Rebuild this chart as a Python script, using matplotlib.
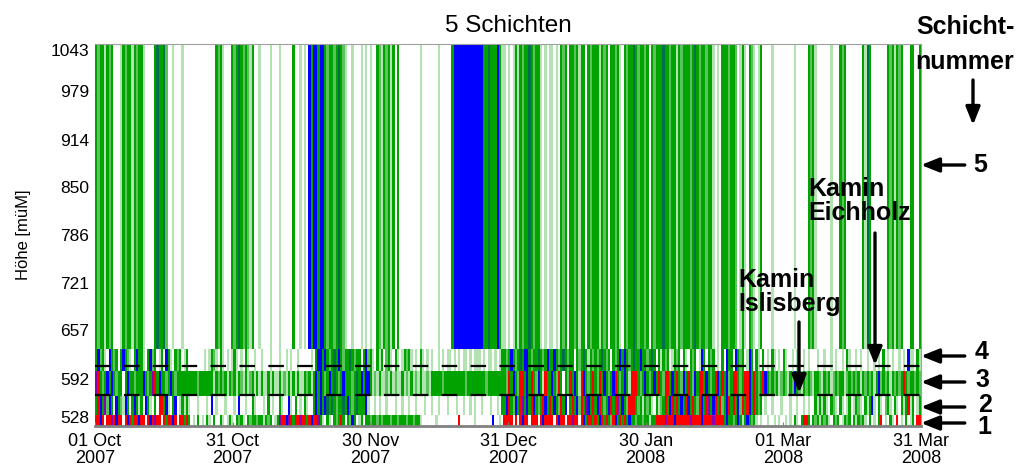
import datetime as dt
import numpy as np
import matplotlib
matplotlib.use("Agg")
import matplotlib.pyplot as plt
import matplotlib.dates as mdates

plt.rcParams['font.family'] = ['Liberation Sans', 'DejaVu Sans']

# time axis: half-day steps from 01 Oct 2007 to 31 Mar 2008
start = dt.datetime(2007, 10, 1)
step = 0.5  # days
n_days = 182

xtick_labels = ['01 Oct\n2007', '31 Oct\n2007', '30 Nov\n2007', '31 Dec\n2007',
                '30 Jan\n2008', '01 Mar\n2008', '31 Mar\n2008']
ytick_values = [528, 592, 657, 721, 786, 850, 914, 979, 1043]

# layer limits [m ue. M.]
layer_bottom = [528, 543, 569, 602, 632]
layer_top = [543, 569, 602, 632, 1043]
layer_names = ['1', '2', '3', '4', '5']

# chimney heights (dashed lines)
kamin_eichholz = 609
kamin_islisberg = 570

# class per half day and layer
# . none, l light green, m mid green, g green, d dark green, b blue, r red, p purple
layer1 = "".join([
    "rrbr.rrprbrr.rbrgrrb", "rr.rbrprr.rgrrbr.rrg", "rg.l.g.l.gl.g..gl.lg",
    "l.gmgl.gmggmgglgmg.l", "gprrbprgrrprrgrbrrpg", "l.gl.gmgrg.gmbg.lg.g",
    "gmggmgmgggmggmgggmgg", "mggl......l.........", "r......l.......b..l.",
    "rrrr.r.rbrr.rrr.rbrr", "rr.rbrr.rrprr.rbgrrg", "rgbrgrgmrbgrgrgbggmg",
    "gmgglggrrrrprrrbrrrr", "rrprrrrbrrrrprrrrgbg", "gmgbglgbgmgl.l..l..l",
    ".l..l.l.gl.grrg.gmgl", "gmgl.gmg.lgmg.glgmgl", ".g.l.gr.l.gl.r.l.g.l",
    "g.rr"])
layer2 = "".join([
    "grbgpmbg.bgmlbg.gbgl", "g.bgl.g.rrgbl.gb.lgl", "gl...l...l.b.l...l..",
    ".l.b..l..gl...l.g.l.", ".gl..bl.g.l.gl..gbgb", "gbdgdgmggdgbgmgdgggb",
    "l..l.l..l...l..l..l.", ".l...l..l..l...l...l", "..l..l.l..l...l..l.g",
    "gbrgmbgrpgbgrbgmgrbg", "rgbgmrgb.grgbmrgpbgr", "gbrgmgbrgrpgbgmrrrgm",
    "glgmgl.glmgrgbrgrgbg", "rbgrgmrbgrpgbrgrmgbr", "grgbmrgrbgrgmg.l..l.",
    "..l...l..l..l.l..glg", "lgl.gml.gl.lg.lgml.g", "lgbl.gl.mgl.gl.glgrl",
    "g.lg"])
layer3 = "".join([
    "prgmgbgbgmgg.gbggmgg", "gbgmgprgbggmgbgmgggg", "gggggmgggggglgmgmglg",
    "mglgmlglmglglgllglgl", "lglmlglglgllgmglgbgb", "gmgbgdgmgbgggmgdgbgb",
    "bglmlgllmlglmllglmlg", "lmlgllmlgggggmgggggg", "gggmggggggggmggggggg",
    "gmrgbgmrrgbgrgmbglrg", "gbgmrg.gmrgbglrbgmgr", "gmrgbgmgbrgmgbglrrrg",
    "mgbgmgbgrgmrrgbgrgmb", "grgmbgrrgbgmgrbgrgbm", "grrgmgrrbgrgmgrbgmgm",
    "glmgmlgmbgmlgmgmlggm", "lgmglmgmgglmgmgmglgm", "gmglgbmgmglgmgmgrgmg",
    "gmgm"])
layer4 = "".join([
    "gbmgl.bgmg.gbgml.gbg", "gl.gbmg.lg.bgl.gmg.l", "g.......l.lgml.gl.l.",
    "lgl.l.gl..l..l...l..", ".l..l.l..l.....l.gbb", "gbgmgdgbgmggdgmgg.gb",
    "mgl.glg.mgl.gl.lgmgl", ".l.gl.l.l..l.l.ll.l.", "l.ll.l.lll.l.ll.l.lg",
    "gmgbgmgdgbbgmggdgmgb", "ggbgmgdgmgg.gmgdglgm", "gmgdgmg.gmgbgbgmgdgg",
    "bggmgdg.glgmg.lgmg.g", "l.gmg.lbg.gmg.l.g.bg", "g.bgmg.lbg.gl.g.l.gl",
    ".l.gl..l.l..l.l...l.", ".l..l.l..l.gl..l.l..", "l..l.l.g.l.l..l.l.bl",
    "l.gl"])
layer5 = "".join([
    "gmgglgmg...lgmgglgmg", "gl....gdggdm..l...l.", ".............gmgl...",
    "gmgdgmgmlg..l....l..", ".l.....g..l.l.bgbbgb", "bgmggmgdgml..l...l.l",
    ".l..gmlgmglg.g......", "...l.......l.....gbb", "bbbbbbbbbbbggdgggbgl",
    "l.l.lglgmggdgmggl.l.", "ll.l.gmg.ggmglgg.gmg", "gglgmg.ggmgl.gmggdgm",
    "ggmg.gmgggdggmgglgmg", "ggmgdgmggmggl.l.gggm", "ggm.lgl.gml.lg....l.",
    "........l.....gmgl..", "....l...gmg.......gl", "dg.......gmglgmg...g",
    "g..g"])
layers = [layer1, layer2, layer3, layer4, layer5]

colors = {
    'l': '#b3e2b3',
    'm': '#5cc25c',
    'g': '#00a300',
    'd': '#00704a',
    'b': '#0000ff',
    'r': '#ff0000',
    'p': '#8a00b8',
}

fig = plt.figure(figsize=(10.25, 4.71), dpi=100)
ax = fig.add_axes([95 / 1025, 45 / 471, 826 / 1025, 382 / 471])

t0 = mdates.date2num(start)
for k, codes in enumerate(layers):
    codes = np.array(list(codes))
    x = t0 + np.arange(len(codes)) * step
    for c, col in colors.items():
        sel = codes == c
        if sel.any():
            ax.bar(x[sel], layer_top[k] - layer_bottom[k], width=step,
                   bottom=layer_bottom[k], align='edge', color=col,
                   linewidth=0, antialiased=False)

# chimney heights
for h in [kamin_eichholz, kamin_islisberg]:
    ax.axhline(h, color='k', lw=1.6, linestyle=(0, (7, 6)))

ax.set_xlim(t0, t0 + n_days)
ax.set_ylim(ytick_values[0], ytick_values[-1])
ax.set_xticks(np.linspace(t0, t0 + n_days, len(xtick_labels)))
ax.set_xticklabels(xtick_labels, fontsize=13, linespacing=1.0)
ax.set_yticks(ytick_values)
ax.set_yticklabels([str(v) for v in ytick_values], fontsize=12.5)
ylab = ax.get_yticklabels()
ylab[0].set_verticalalignment('bottom')
ylab[-1].set_verticalalignment('top')
ax.tick_params(axis='both', direction='in', length=3, color='#808080', pad=4)
ax.tick_params(axis='x', pad=5)
ax.tick_params(axis='y', length=0)

for s in ['top', 'right']:
    ax.spines[s].set_color('#a0a0a0')
    ax.spines[s].set_linewidth(0.8)
ax.spines['bottom'].set_color('#808080')
ax.spines['bottom'].set_linewidth(2)
ax.spines['left'].set_visible(False)

ax.set_title('5 Schichten', fontsize=17.5, pad=9)
ax.set_ylabel('Höhe [müM]', fontsize=12, labelpad=14)

arrow = dict(arrowstyle='-|>,head_length=0.9,head_width=0.36', lw=2.4,
             color='k', mutation_scale=12, shrinkA=0, shrinkB=0)
bold = dict(fontsize=18, fontweight='bold', ha='center', va='center')

# layer number arrows on the right
tip_y = [423, 407, 382, 356, 165]
lab_y = [427, 405, 380, 352, 165]
lab_x = [984, 985, 982, 982, 980]
for name, ty, ly, lx in zip(layer_names, tip_y, lab_y, lab_x):
    ax.annotate('', xy=(1.0, (426 - ty) / 382), xytext=(1.053, (426 - ty) / 382),
                xycoords='axes fraction', arrowprops=arrow, annotation_clip=False)
    ax.text((lx - 95) / 826, (426 - ly) / 382, name, transform=ax.transAxes, **bold)

ax.text((965 - 95) / 826, (426 - 27) / 382, 'Schicht-', transform=ax.transAxes, **bold)
ax.text((965 - 95) / 826, (426 - 62) / 382, 'nummer', transform=ax.transAxes, **bold)
ax.annotate('', xy=((973 - 95) / 826, (426 - 125) / 382),
            xytext=((973 - 95) / 826, (426 - 80) / 382),
            xycoords='axes fraction', arrowprops=arrow, annotation_clip=False)

# chimney labels
ax.text((808 - 95) / 826, (426 - 201) / 382, 'Kamin\nEichholz', transform=ax.transAxes,
        fontsize=18, fontweight='bold', ha='left', va='center', linespacing=1.0)
ax.annotate('', xy=((875 - 95) / 826, (426 - 365) / 382),
            xytext=((875 - 95) / 826, (426 - 233) / 382),
            xycoords='axes fraction', arrowprops=arrow)
ax.text((738 - 95) / 826, (426 - 292) / 382, 'Kamin\nIslisberg', transform=ax.transAxes,
        fontsize=18, fontweight='bold', ha='left', va='center', linespacing=1.0)
ax.annotate('', xy=((799 - 95) / 826, (426 - 393) / 382),
            xytext=((799 - 95) / 826, (426 - 322) / 382),
            xycoords='axes fraction', arrowprops=arrow)

fig.savefig('out.png', dpi=100, facecolor='white')
